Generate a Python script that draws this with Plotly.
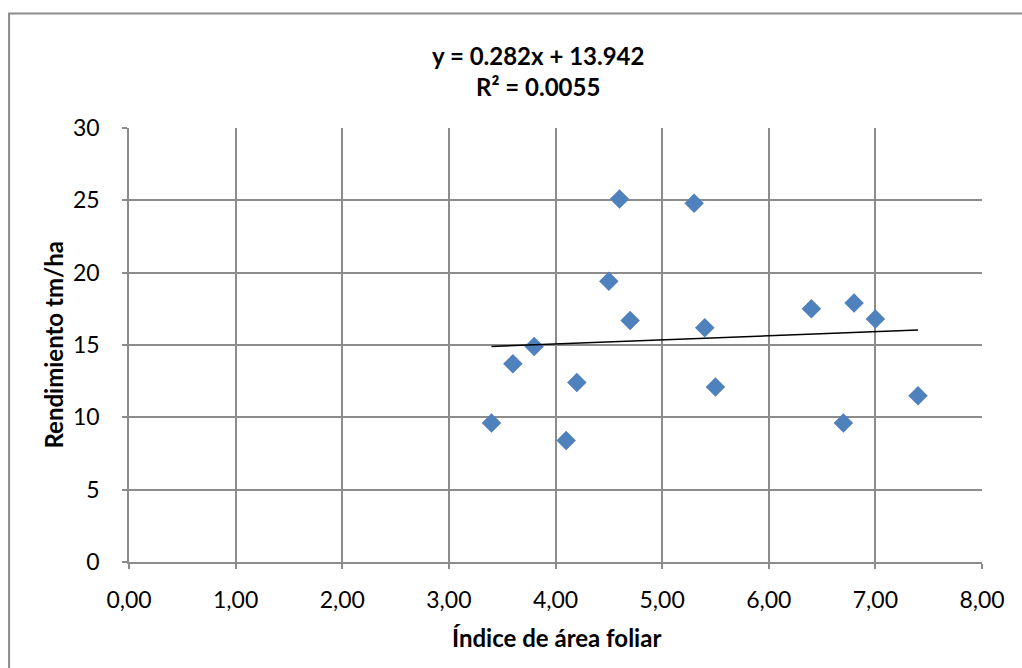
import plotly.graph_objects as go

# Data
indice_area_foliar = [3.4, 3.6, 3.8, 4.1, 4.2, 4.5, 4.6, 4.7, 5.3, 5.4, 5.5, 6.4, 6.7, 6.8, 7.0, 7.4]
rendimiento = [9.6, 13.7, 14.9, 8.4, 12.4, 19.4, 25.1, 16.7, 24.8, 16.2, 12.1, 17.5, 9.6, 17.9, 16.8, 11.5]
slope = 0.282
intercept = 13.942
trend_x = [min(indice_area_foliar), max(indice_area_foliar)]
trend_y = [slope * v + intercept for v in trend_x]

x_tick_vals = [0, 1, 2, 3, 4, 5, 6, 7, 8]
x_tick_text = ["0,00", "1,00", "2,00", "3,00", "4,00", "5,00", "6,00", "7,00", "8,00"]
y_tick_vals = [0, 5, 10, 15, 20, 25, 30]

FONT = "Lato, Carlito, Calibri, sans-serif"
GRID = "#8c8c8c"

fig = go.Figure()
fig.add_trace(go.Scatter(
    x=indice_area_foliar, y=rendimiento, mode="markers",
    marker=dict(symbol="diamond", size=15, color="#4F81BD",
                line=dict(width=0)),
    showlegend=False, cliponaxis=False))
fig.add_trace(go.Scatter(
    x=trend_x, y=trend_y, mode="lines",
    line=dict(color="black", width=1.5),
    showlegend=False))

L, R, T, B = 128.5, 40, 128, 106
W, H = 1022, 668
pw, ph = W - L - R, H - T - B

def px_x(p):
    return (p - L) / pw

def px_y(p):
    return (H - B - p) / ph

fig.update_layout(
    width=W, height=H,
    margin=dict(l=L, r=R, t=T, b=B),
    paper_bgcolor="white", plot_bgcolor="white",
    font=dict(family=FONT, color="black", size=23),
    xaxis=dict(range=[0, 8], tickvals=x_tick_vals, ticktext=x_tick_text,
               showgrid=True, gridcolor=GRID, gridwidth=1.5,
               showline=True, linecolor=GRID, linewidth=1.5,
               ticks="outside", ticklen=5, tickcolor=GRID, tickwidth=1.5,
               ticklabelstandoff=12,
               zeroline=False, fixedrange=True, tickfont=dict(size=23)),
    yaxis=dict(range=[0, 30], tickvals=y_tick_vals,
               showgrid=True, gridcolor=GRID, gridwidth=1.5,
               showline=True, linecolor=GRID, linewidth=1.5,
               ticks="outside", ticklen=5, tickcolor=GRID, tickwidth=1.5,
               ticklabelstandoff=18,
               zeroline=False, fixedrange=True, tickfont=dict(size=23)),
    shapes=[dict(type="rect", xref="paper", yref="paper",
                 x0=px_x(8.5), x1=px_x(1040), y0=px_y(690), y1=px_y(13.5),
                 line=dict(color="#8c8c8c", width=2), fillcolor="rgba(0,0,0,0)",
                 layer="below")],
    annotations=[
        dict(text="<b>y = 0.282x + 13.942</b><br><b>R² = 0.0055</b>",
             xref="paper", yref="paper", x=px_x(538), y=px_y(71),
             xanchor="center", yanchor="middle", showarrow=False,
             font=dict(size=24, family=FONT)),
        dict(text="<b>Índice de área foliar</b>",
             xref="paper", yref="paper", x=px_x(556), y=px_y(637),
             xanchor="center", yanchor="middle", showarrow=False,
             font=dict(size=24, family=FONT)),
        dict(text="<b>Rendimiento tm/ha</b>", textangle=-90,
             xref="paper", yref="paper", x=px_x(52), y=px_y(345),
             xanchor="center", yanchor="middle", showarrow=False,
             font=dict(size=24, family=FONT)),
    ],
)

fig.write_html("out.html")
